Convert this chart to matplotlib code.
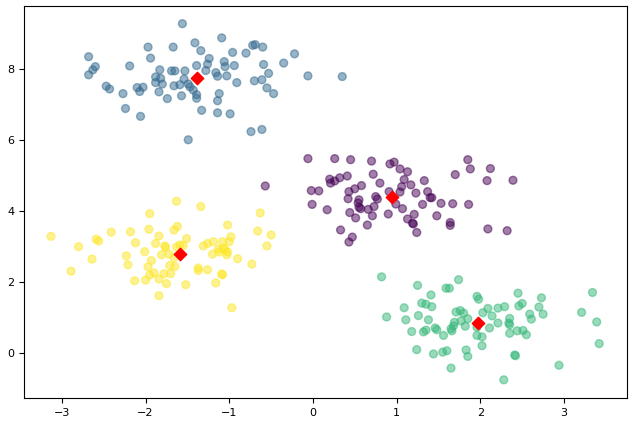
import numpy as np
import matplotlib
matplotlib.use("Agg")
import matplotlib.pyplot as plt

# cluster 0 (purple)
c0_x = [-0.06, 0.26, 0.45, 0.70, 0.92, 0.97, 1.04, 1.13, 0.72, 0.41, 0.32, 0.20, 0.26, 0.21, 0.80,
        0.58, 1.09, 1.06, -0.02, 0.07, 0.50, 0.43, 0.91, 1.04, 0.75, 0.77, 0.42, 0.55, 0.54, -0.01,
        0.55, 0.57, 0.66, 0.73, 0.99, 1.07, 0.17, 0.44, 0.90, 0.51, 0.71, 1.13, 0.65, 0.33, 0.47,
        0.43, 1.17, 1.33, 1.23, 1.37, 1.40, 1.42, 1.31, 1.53, 1.67, 1.86, 1.21, 1.19, 1.20, 1.48,
        1.64, 1.64, 1.24, 1.70, 1.85, 1.88, 2.12, 2.08, 2.39, 2.09, 2.32, -0.57]
c0_y = [5.47, 5.47, 5.44, 5.40, 5.32, 5.37, 5.18, 5.10, 5.03, 4.98, 4.93, 4.89, 4.84, 4.78, 4.78,
        4.71, 4.88, 4.68, 4.57, 4.56, 4.62, 4.54, 4.54, 4.53, 4.40, 4.33, 4.34, 4.31, 4.22, 4.18,
        4.10, 4.06, 4.04, 4.12, 4.19, 4.06, 4.03, 3.95, 3.91, 3.80, 3.86, 3.77, 3.60, 3.46, 3.26,
        3.12, 4.73, 4.85, 4.50, 4.54, 4.37, 4.37, 4.18, 4.21, 4.20, 4.18, 3.90, 3.65, 3.63, 3.86,
        3.67, 3.59, 3.39, 5.02, 5.44, 5.18, 5.19, 4.85, 4.86, 3.49, 3.44, 4.70]

# cluster 1 (blue)
c1_x = [-1.56, -1.09, -1.41, -1.97, -1.67, -1.34, -2.68, -1.94, -1.24, -1.06, -2.60, -2.19, -1.39,
        -2.63, -1.26, -1.83, -1.69, -1.65, -1.53, -1.28, -2.68, -1.88, -1.16, -1.14, -1.82, -1.54,
        -1.88, -1.80, -1.49, -1.66, -1.59, -2.47, -2.43, -2.10, -2.03, -2.07, -1.47, -1.43, -1.84,
        -1.39, -1.39, -1.12, -2.27, -1.57, -1.74, -1.14, -2.24, -1.33, -1.14, -2.06, -1.49, -0.72,
        -0.69, -0.60, -0.96, -0.80, -0.22, -1.05, -0.94, -0.59, -0.35, -1.03, -0.53, -0.06, 0.35,
        -0.91, -0.70, -0.61, -0.55, -0.47, -0.99, -0.74, -0.61]
c1_y = [9.27, 8.87, 8.73, 8.61, 8.61, 8.51, 8.34, 8.30, 8.29, 8.20, 8.06, 8.08, 8.09, 7.97, 8.13,
        7.97, 7.94, 7.94, 7.94, 7.95, 7.83, 7.77, 7.89, 7.79, 7.73, 7.71, 7.61, 7.57, 7.57, 7.52,
        7.55, 7.51, 7.43, 7.47, 7.48, 7.36, 7.49, 7.40, 7.35, 7.27, 7.17, 7.30, 7.30, 7.24, 7.16,
        7.10, 6.88, 6.83, 6.76, 6.66, 6.00, 8.66, 8.68, 8.61, 8.46, 8.44, 8.42, 8.06, 8.09, 8.12,
        8.16, 7.80, 7.87, 7.80, 7.78, 7.61, 7.66, 7.69, 7.46, 7.30, 6.73, 6.23, 6.29]

# cluster 2 (green)
c2_x = [0.82, 1.74, 1.25, 1.59, 1.63, 1.41, 1.96, 1.98, 1.30, 1.35, 1.42, 1.09, 2.09, 1.71, 1.76,
        1.80, 2.03, 1.26, 0.88, 1.11, 1.38, 1.85, 1.77, 1.69, 1.68, 1.82, 1.96, 2.11, 1.46, 1.48,
        1.65, 1.66, 1.35, 1.32, 1.18, 1.56, 1.96, 2.02, 2.02, 1.24, 1.60, 1.55, 1.83, 1.44, 1.85,
        1.65, 2.45, 2.73, 3.34, 2.50, 2.46, 2.29, 2.21, 2.70, 2.14, 2.59, 2.75, 3.21, 2.35, 2.61,
        2.21, 2.34, 2.35, 3.39, 2.44, 2.51, 2.35, 2.55, 3.42, 2.41, 2.42, 2.94, 2.28]
c2_y = [2.14, 2.06, 1.90, 1.82, 1.82, 1.63, 1.59, 1.51, 1.40, 1.37, 1.30, 1.27, 1.25, 1.15, 1.19,
        1.12, 1.13, 1.05, 1.01, 0.93, 0.93, 0.96, 0.90, 0.86, 0.76, 0.75, 0.72, 0.70, 0.70, 0.65,
        0.68, 0.62, 0.64, 0.59, 0.60, 0.49, 0.49, 0.45, 0.20, 0.09, 0.06, 0.02, 0.08, -0.03, -0.10,
        -0.43, 1.68, 1.55, 1.70, 1.39, 1.32, 1.30, 1.26, 1.29, 1.04, 1.09, 1.09, 1.14, 0.97, 0.95,
        0.84, 0.84, 0.79, 0.87, 0.62, 0.63, 0.55, 0.51, 0.26, -0.06, -0.08, -0.35, -0.76]

# cluster 3 (yellow)
c3_x = [-1.95, -3.13, -2.41, -2.18, -1.96, -2.59, -2.56, -2.80, -2.12, -1.88, -1.84, -2.23, -2.01,
        -2.64, -1.93, -2.21, -1.97, -2.89, -1.90, -1.95, -2.13, -2.00, -1.84, -1.84, -1.63, -1.34,
        -0.63, -1.62, -1.66, -1.02, -0.66, -0.50, -1.51, -0.98, -1.77, -1.76, -1.59, -1.55, -1.63,
        -1.31, -1.26, -1.19, -1.08, -1.00, -0.55, -1.13, -1.07, -1.05, -1.02, -1.81, -1.72, -1.66,
        -1.20, -1.12, -1.03, -0.90, -0.73, -1.71, -1.65, -1.37, -1.37, -1.26, -1.78, -1.70, -1.09,
        -1.08, -1.75, -1.52, -1.16, -0.97]
c3_y = [3.92, 3.28, 3.40, 3.41, 3.48, 3.20, 3.15, 2.99, 3.10, 3.08, 3.29, 2.73, 2.85, 2.64, 2.60,
        2.48, 2.42, 2.30, 2.25, 2.19, 2.03, 2.05, 2.08, 1.61, 4.27, 4.12, 3.94, 3.56, 3.46, 3.60,
        3.43, 3.32, 3.22, 3.27, 3.01, 2.97, 3.04, 3.02, 2.98, 3.01, 3.08, 3.13, 3.13, 3.13, 3.01,
        2.92, 2.95, 2.90, 2.84, 2.76, 2.78, 2.68, 2.78, 2.84, 2.76, 2.65, 2.50, 2.46, 2.43, 2.39,
        2.32, 2.34, 2.23, 2.23, 2.22, 2.20, 1.95, 1.92, 1.97, 1.27]

# cluster centers
center_x = [0.94, -1.38, 1.97, -1.59]
center_y = [4.39, 7.74, 0.85, 2.79]

xs = np.concatenate([c0_x, c1_x, c2_x, c3_x])
ys = np.concatenate([c0_y, c1_y, c2_y, c3_y])
labels = np.concatenate([np.full(len(c0_x), 0), np.full(len(c1_x), 1),
                         np.full(len(c2_x), 2), np.full(len(c3_x), 3)])

fig = plt.figure(figsize=(6.37, 4.22), dpi=100)
ax = fig.add_axes([0.038, 0.057, 0.946, 0.929])
ax.scatter(xs, ys, c=labels, cmap="viridis", s=32, alpha=0.5, vmin=0, vmax=3)
ax.scatter(center_x, center_y, c="red", marker="D", s=40)
ax.set_xlim(-3.45, 3.75)
ax.set_ylim(-1.27, 9.77)
ax.set_xticks([-3, -2, -1, 0, 1, 2, 3])
ax.set_yticks([0, 2, 4, 6, 8])
ax.tick_params(labelsize=8)
fig.savefig("out.png", dpi=100)
